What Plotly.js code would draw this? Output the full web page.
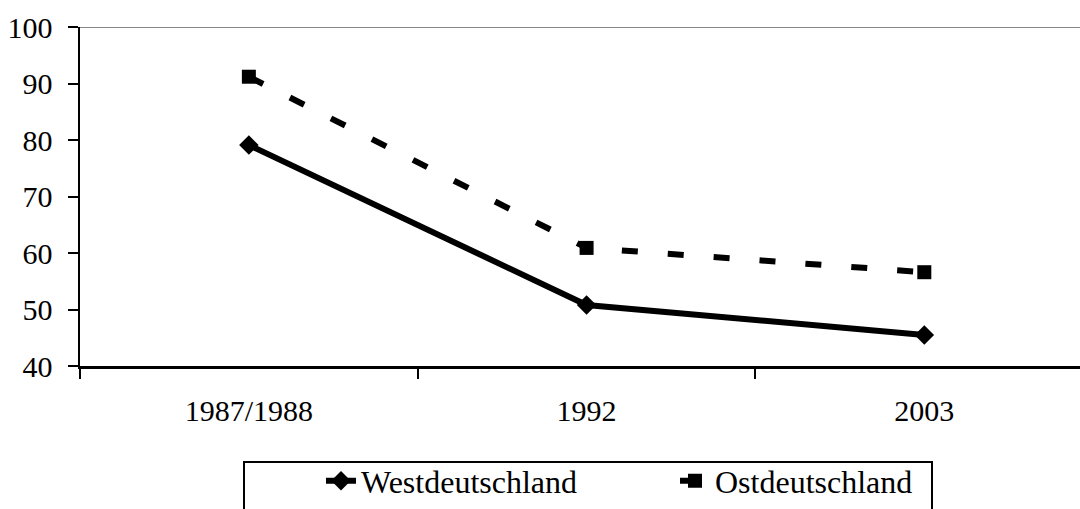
<!DOCTYPE html>
<html>
<head>
<meta charset="utf-8">
<script src="https://cdn.plot.ly/plotly-3.0.1.min.js"></script>
<style>html,body{margin:0;padding:0;background:#fff;}#chart{width:1080px;height:509px;}</style>
</head>
<body>
<div id="chart"></div>
<script>
const categories = ["1987/1988", "1992", "2003"];
const westValues = [79.1, 50.8, 45.5];
const ostValues = [91.2, 60.9, 56.6];
const seriesNames = ["Westdeutschland", "Ostdeutschland"];
const yTicks = [40, 50, 60, 70, 80, 90, 100];

const font = "'Liberation Serif', 'Times New Roman', serif";

const traces = [
  {
    x: categories, y: westValues, name: seriesNames[0], type: "scatter", mode: "lines+markers",
    line: {color: "#000", width: 6},
    marker: {symbol: "diamond", size: 15, color: "#000"},
    legend: "legend"
  },
  {
    x: categories, y: ostValues, name: seriesNames[1], type: "scatter", mode: "lines+markers",
    line: {color: "#000", width: 6, dash: "16px,30px"},
    marker: {symbol: "square", size: 14, color: "#000"},
    legend: "legend2"
  }
];

const layout = {
  width: 1080, height: 509,
  margin: {l: 80, r: 0, t: 27, b: 143, pad: 0},
  paper_bgcolor: "#fff", plot_bgcolor: "#fff",
  font: {family: font, size: 30, color: "#000"},
  showlegend: true,
  xaxis: {
    type: "category", range: [-0.5, 2.461],
    showline: true, linecolor: "#000", linewidth: 2.5,
    ticks: "outside", tickson: "boundaries", ticklen: 10, tickwidth: 2, tickcolor: "#000",
    showgrid: false, zeroline: false,
    tickfont: {family: font, size: 30, color: "#000"},
    ticklabelstandoff: 16
  },
  yaxis: {
    range: [40, 100], tickvals: yTicks,
    showline: true, linecolor: "#000", linewidth: 2.5,
    ticks: "outside", ticklen: 10, tickwidth: 2, tickcolor: "#000",
    showgrid: false, zeroline: false,
    tickfont: {family: font, size: 30, color: "#000"},
    ticklabelstandoff: 9
  },
  shapes: [
    {type: "line", xref: "paper", yref: "y", x0: 0, x1: 1, y0: 100, y1: 100, line: {color: "#888", width: 2}, layer: "below"},
    {type: "rect", xref: "paper", yref: "paper", x0: 0.164, x1: 0.852, y0: -0.283, y1: -0.6, line: {color: "#000", width: 2}}
  ],
  legend: {
    orientation: "h", x: 0.241, xanchor: "left", y: -0.42, yanchor: "bottom",
    font: {family: font, size: 32, color: "#000"}, bgcolor: "rgba(0,0,0,0)", borderwidth: 0
  },
  legend2: {
    orientation: "h", x: 0.595, xanchor: "left", y: -0.42, yanchor: "bottom",
    font: {family: font, size: 32, color: "#000"}, bgcolor: "rgba(0,0,0,0)", borderwidth: 0
  }
};

Plotly.newPlot("chart", traces, layout, {displayModeBar: false, staticPlot: true});
</script>
</body>
</html>
